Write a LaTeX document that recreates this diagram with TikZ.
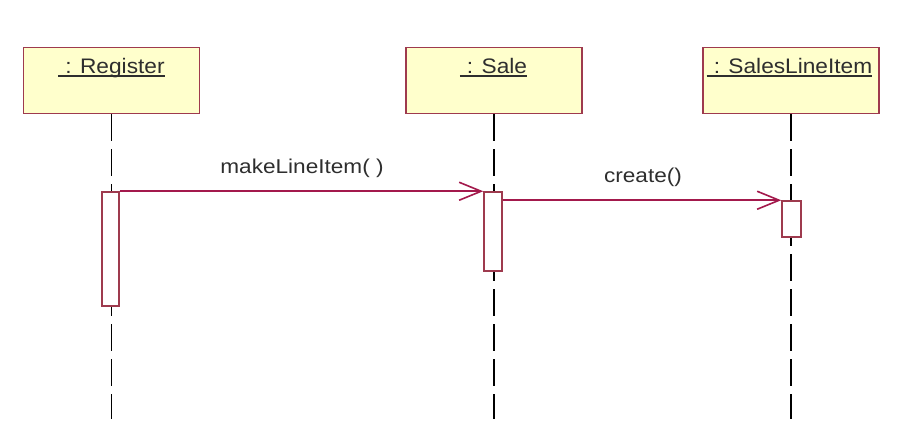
\documentclass[tikz,border=0pt]{standalone}
\usepackage{fontspec}
\setmainfont{Liberation Sans}
\usetikzlibrary{arrows.meta}
\definecolor{boxfill}{HTML}{FFFFCC}
\definecolor{boxdraw}{HTML}{9E3A4E}
\definecolor{msg}{HTML}{A3194C}
\definecolor{txt}{HTML}{2E2E2E}
\begin{document}
\begin{tikzpicture}[x=1pt,y=-1pt,
  obj/.style={draw=boxdraw, fill=boxfill, line width=1.5pt, minimum width=176pt, minimum height=66pt, inner sep=0pt},
  lifeline/.style={black, line width=1.6pt, dash pattern=on 27pt off 8pt},
  act/.style={draw=boxdraw, fill=white, line width=1.5pt, inner sep=0pt},
  msgline/.style={draw=msg, line width=1.6pt, -{Straight Barb[length=22pt,width=18pt,line width=1.6pt]}},
  lbl/.style={text=txt, font=\fontsize{20}{24}\selectfont, inner sep=0pt, anchor=base},
  olbl/.style={text=txt, font=\fontsize{21}{25}\selectfont, inner sep=0pt, anchor=base},
  uline/.style={draw=txt, line width=1.4pt}]
\useasboundingbox (0,0) rectangle (923,447);
% object boxes
\node[obj] (reg) at (111.5,80.5) {};
\node[obj] (sale) at (494,80.5) {};
\node[obj] (sli) at (791,80.5) {};
% lifeline ends
\coordinate (regend) at (111.5,419);
\coordinate (saleend) at (494,419);
\coordinate (sliend) at (791,419);
\draw[lifeline] (reg.south) -- (regend);
\draw[lifeline] (sale.south) -- (saleend);
\draw[lifeline] (sli.south) -- (sliend);
% labels
\node[olbl] (regl) at (115,73) {\scalebox{1.08}[1]{: Register}};
\node[olbl] (salel) at (497,73) {\scalebox{1.08}[1]{: Sale}};
\node[olbl] (slil) at (793,73) {\scalebox{1.08}[1]{: SalesLineItem}};
\draw[uline] ([xshift=-7pt,yshift=-3pt]regl.base west) -- ([yshift=-3pt]regl.base east);
\draw[uline] ([xshift=-7pt,yshift=-3pt]salel.base west) -- ([yshift=-3pt]salel.base east);
\draw[uline] ([xshift=-7pt,yshift=-3pt]slil.base west) -- ([yshift=-3pt]slil.base east);
% activations
\node[act, minimum width=17pt, minimum height=114pt] (regact) at (110.5,249) {};
\node[act, minimum width=18pt, minimum height=79pt] (saleact) at (493,231.5) {};
\node[act, minimum width=19pt, minimum height=36pt] (sliact) at (791.5,219) {};
% messages
\draw[msgline] (regact.north east) -- (saleact.north west);
\draw[msgline] (saleact.east |- sliact.north) -- (sliact.north west);
\node[lbl] (m1) at (302,173) {\scalebox{1.13}[1]{makeLineItem( )}};
\node[lbl] (m2) at (643,182) {\scalebox{1.13}[1]{create()}};
\end{tikzpicture}
\end{document}
